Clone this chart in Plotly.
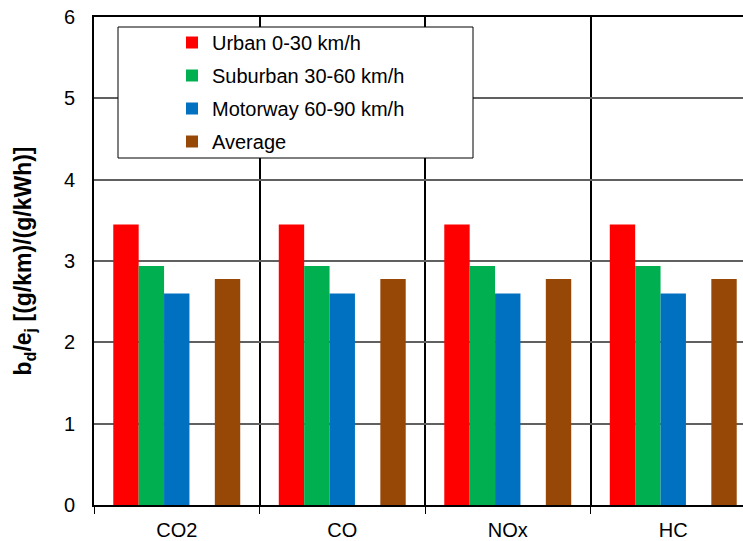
import plotly.graph_objects as go

# Pollutants on the x axis
pollutants = ["CO2", "CO", "NOx", "HC"]

# Ratio b_d / e_j for each driving cycle section
urban = [3.45, 3.45, 3.45, 3.45]
suburban = [2.94, 2.94, 2.94, 2.94]
motorway = [2.60, 2.60, 2.60, 2.60]
average = [2.78, 2.78, 2.78, 2.78]

series_names = ["Urban 0-30 km/h", "Suburban 30-60 km/h", "Motorway 60-90 km/h", "Average"]
series_colors = ["#FF0000", "#00B050", "#0070C0", "#974806"]

y_ticks = [0, 1, 2, 3, 4, 5, 6]

W, H = 743, 541
L, R, T, B = 94, 0, 17, 36
plot_w = W - L - R
plot_h = H - T - B

FONT = "Arial, Liberation Sans, sans-serif"

fig = go.Figure()

traces = [
    (series_names[0], urban, series_colors[0]),
    (series_names[1], suburban, series_colors[1]),
    (series_names[2], motorway, series_colors[2]),
]
for i, (name, vals, col) in enumerate(traces):
    fig.add_trace(go.Bar(x=pollutants, y=vals, name=name, legendgroup=f"g{i}",
                         marker=dict(color=col, line=dict(width=0))))

# empty slot between the motorway and average bars
fig.add_trace(go.Bar(x=pollutants, y=[None] * len(pollutants), name="",
                     showlegend=False, hoverinfo="skip"))

fig.add_trace(go.Bar(x=pollutants, y=average, name=series_names[3], legendgroup="g3",
                     marker=dict(color=series_colors[3], line=dict(width=0))))


def px_x(px):
    return (px - L) / plot_w


def px_y(py):
    return (H - B - py) / plot_h


# legend frame
fig.add_shape(type="rect", xref="paper", yref="paper",
              x0=px_x(118), x1=px_x(473), y0=px_y(158), y1=px_y(27),
              fillcolor="white", line=dict(color="black", width=1), layer="above")

fig.update_layout(
    width=W, height=H,
    margin=dict(l=L, r=R, t=T, b=B, pad=0),
    paper_bgcolor="white", plot_bgcolor="white",
    barmode="group", bargap=0.233, bargroupgap=0,
    font=dict(family=FONT, size=20, color="black"),
    showlegend=True,
    legend=dict(x=px_x(172), y=px_y(23), xanchor="left", yanchor="top",
                bgcolor="rgba(0,0,0,0)", borderwidth=0,
                font=dict(family=FONT, size=20, color="black"),
                traceorder="grouped", tracegroupgap=4),
    xaxis=dict(
        type="category", range=[-0.5, -0.5 + plot_w / 165.5],
        tickson="boundaries", ticks="outside", ticklen=7, tickwidth=1, tickcolor="black",
        showgrid=True, gridcolor="black", gridwidth=1.5,
        showline=True, linecolor="black", linewidth=2, mirror=True,
        ticklabelstandoff=6,
        tickfont=dict(family=FONT, size=20, color="black"),
    ),
    yaxis=dict(
        range=[0, 6], tickvals=y_ticks, ticks="",
        showgrid=True, gridcolor="#606060", gridwidth=1.5,
        showline=True, linecolor="black", linewidth=2, zeroline=False,
        ticklabelstandoff=13,
        tickfont=dict(family=FONT, size=20, color="black"),
        title=dict(text="<b>b<sub>d</sub>/e<sub>j</sub> [(g/km)/(g/kWh)]</b>",
                   font=dict(family=FONT, size=23, color="black"), standoff=26),
    ),
)

fig.write_html("out.html")
